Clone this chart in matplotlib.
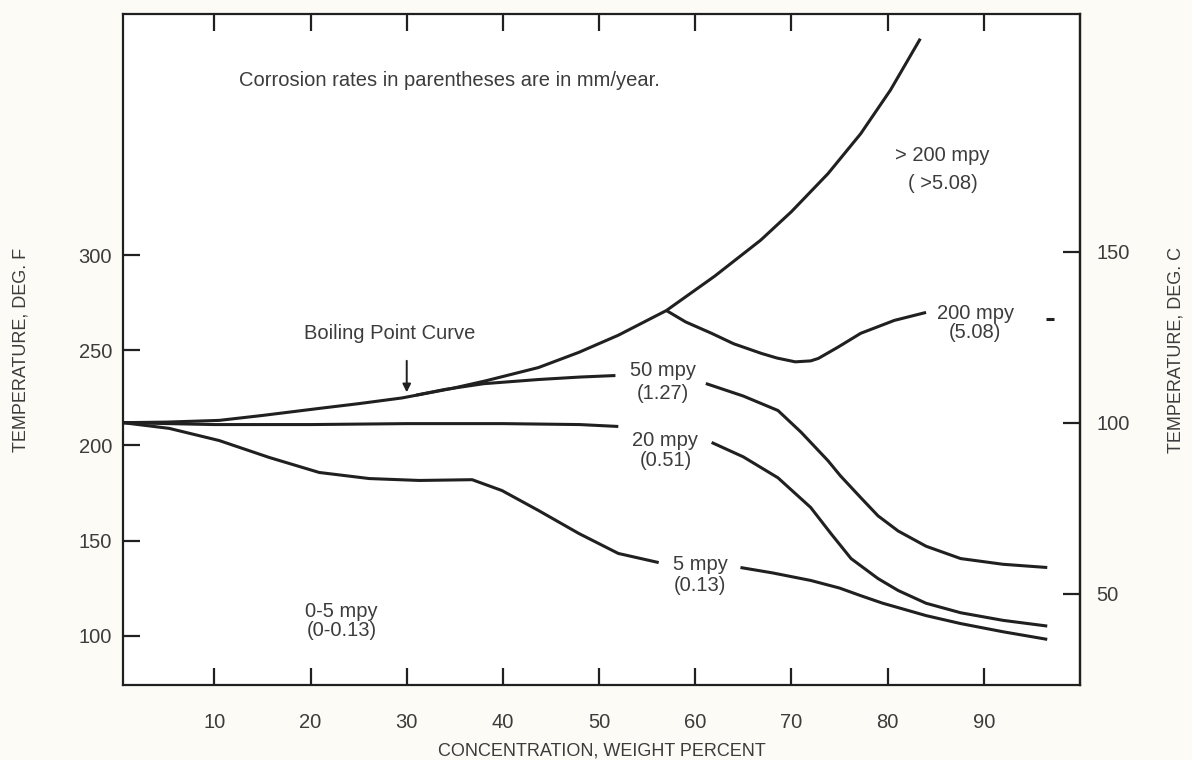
import matplotlib.pyplot as plt
import numpy as np

plt.rcParams["font.family"] = ["Liberation Sans", "DejaVu Sans"]

LINE = "#202020"
TEXT = "#3c3c3c"

# boiling point curve (weight percent, deg F)
boil_x = [0.5, 5, 10.5, 15, 20.9, 25, 29.5, 34.7, 38.2, 43.7, 47.9, 52, 57, 62, 66.8, 70, 73.8, 77.2, 80.3, 83.4]
boil_f = [212, 212.3, 213.2, 215.8, 219.5, 222, 225, 230, 234, 241, 249, 258, 271, 289, 308, 323, 343, 364, 387, 414]

# 200 mpy iso-corrosion line
mpy200_x = [57, 59, 61.7, 64, 66.9, 68.5, 70.4, 72, 72.8, 74.8, 77.2, 80.7, 84]
mpy200_f = [271, 265, 259, 253.5, 248.4, 246, 244, 244.5, 245.8, 251.6, 259, 265.8, 270]

# 50 mpy, split at its label
mpy50_left_x = [31, 34, 38, 43.7, 48, 51.7]
mpy50_left_f = [226.5, 229.5, 232.5, 234.7, 236, 236.8]
mpy50_right_x = [61.1, 65, 68.6, 71, 73.8, 75.1, 77.2, 79, 81.1, 84, 87.6, 92, 96.6]
mpy50_right_f = [232.6, 226, 218.4, 207, 192, 184, 172.6, 163, 155, 147, 140.5, 137.5, 135.8]

# 20 mpy
mpy20_left_x = [0.5, 10, 20, 30, 40, 48, 52]
mpy20_left_f = [212, 211, 211, 211.5, 211.5, 211, 210]
mpy20_right_x = [61.7, 65, 68.6, 72, 74.1, 76.2, 79, 81.1, 84, 87.6, 92, 96.6]
mpy20_right_f = [201.6, 194, 183, 167.4, 153.7, 140.5, 130, 123.7, 117, 112, 108, 105]

# 5 mpy
mpy5_left_x = [0.5, 5.3, 10.5, 15.7, 20.9, 26.1, 31.3, 36.8, 39.9, 43.7, 47.9, 52, 56.2]
mpy5_left_f = [212, 209, 202.6, 193.7, 185.8, 182.6, 181.6, 182, 176.3, 165.8, 153.7, 143.2, 138.4]
mpy5_right_x = [64.7, 68, 72, 75, 77.2, 79.5, 81.1, 84, 87.6, 92, 96.6]
mpy5_right_f = [135.8, 133, 129, 125, 121, 117, 114.7, 110.5, 106.3, 102, 98]

# stray mark at the right edge
dash_x = [96.5, 97.3]
dash_f = [266.8, 266.8]

# region labels: (x, deg F, text)
labels = [
    (85.7, 352.6, "> 200 mpy"),
    (85.7, 338.0, "( >5.08)"),
    (89.1, 269.5, "200 mpy"),
    (89.1, 259.5, "(5.08)"),
    (56.6, 239.5, "50 mpy"),
    (56.6, 227.4, "(1.27)"),
    (56.9, 202.6, "20 mpy"),
    (56.9, 192.0, "(0.51)"),
    (60.5, 137.4, "5 mpy"),
    (60.5, 126.3, "(0.13)"),
    (23.2, 112.6, "0-5 mpy"),
    (23.2, 102.6, "(0-0.13)"),
]

x_ticks = [10, 20, 30, 40, 50, 60, 70, 80, 90]
f_ticks = [100, 150, 200, 250, 300]
c_ticks = [50, 100, 150]

fig = plt.figure(figsize=(11.92, 7.60), dpi=100, facecolor="#fcfbf6")
ax = fig.add_axes([0.1032, 0.0987, 0.8028, 0.8829])
ax.set_facecolor("white")

curves = [
    (boil_x, boil_f), (mpy200_x, mpy200_f),
    (mpy50_left_x, mpy50_left_f), (mpy50_right_x, mpy50_right_f),
    (mpy20_left_x, mpy20_left_f), (mpy20_right_x, mpy20_right_f),
    (mpy5_left_x, mpy5_left_f), (mpy5_right_x, mpy5_right_f),
    (dash_x, dash_f),
]
for cx, cy in curves:
    ax.plot(cx, cy, color=LINE, lw=2.2, solid_capstyle="butt", solid_joinstyle="round")

for lx, ly, txt in labels:
    ax.text(lx, ly, txt, ha="center", va="center", fontsize=14.5, color=TEXT)

ax.text(12.6, 392, "Corrosion rates in parentheses are in mm/year.", ha="left", va="center",
        fontsize=14.5, color=TEXT)
ax.text(28.2, 259, "Boiling Point Curve", ha="center", va="center", fontsize=14.5, color=TEXT)
ax.annotate("", xy=(30, 226.5), xytext=(30, 246),
            arrowprops=dict(arrowstyle="-|>", color=LINE, lw=1.4, mutation_scale=12))

ax.set_xlim(0.5, 100)
ax.set_ylim(74, 427)

ax.set_xticks(x_ticks)
ax.set_yticks(f_ticks)
ax.set_yticks([212], minor=True)
ax.tick_params(axis="both", which="both", direction="in", length=12, width=1.6,
               colors=LINE, labelcolor=TEXT, labelsize=14.5)
ax.tick_params(axis="x", top=True, pad=20)
ax.tick_params(axis="y", pad=8)
ax.tick_params(axis="y", which="minor", length=12, width=1.6)
for s in ax.spines.values():
    s.set_linewidth(1.6)
    s.set_color(LINE)

sec = ax.secondary_yaxis("right", functions=(lambda f: (f - 32) * 5 / 9, lambda c: c * 9 / 5 + 32))
sec.set_yticks(c_ticks)
sec.tick_params(direction="in", length=12, width=1.6, colors=LINE, labelcolor=TEXT,
                labelsize=14.5, pad=12)
sec.spines["right"].set_linewidth(1.6)
sec.spines["right"].set_color(LINE)

ax.set_xlabel("CONCENTRATION, WEIGHT PERCENT", fontsize=13, color=TEXT, labelpad=8)
fig.text(21 / 1192, 1 - 350 / 760, "TEMPERATURE, DEG. F", rotation=90, ha="center", va="center",
         fontsize=13, color=TEXT)
fig.text(1176 / 1192, 1 - 350 / 760, "TEMPERATURE, DEG. C", rotation=90, ha="center", va="center",
         fontsize=13, color=TEXT)

fig.savefig("out.png", dpi=100, facecolor=fig.get_facecolor())
